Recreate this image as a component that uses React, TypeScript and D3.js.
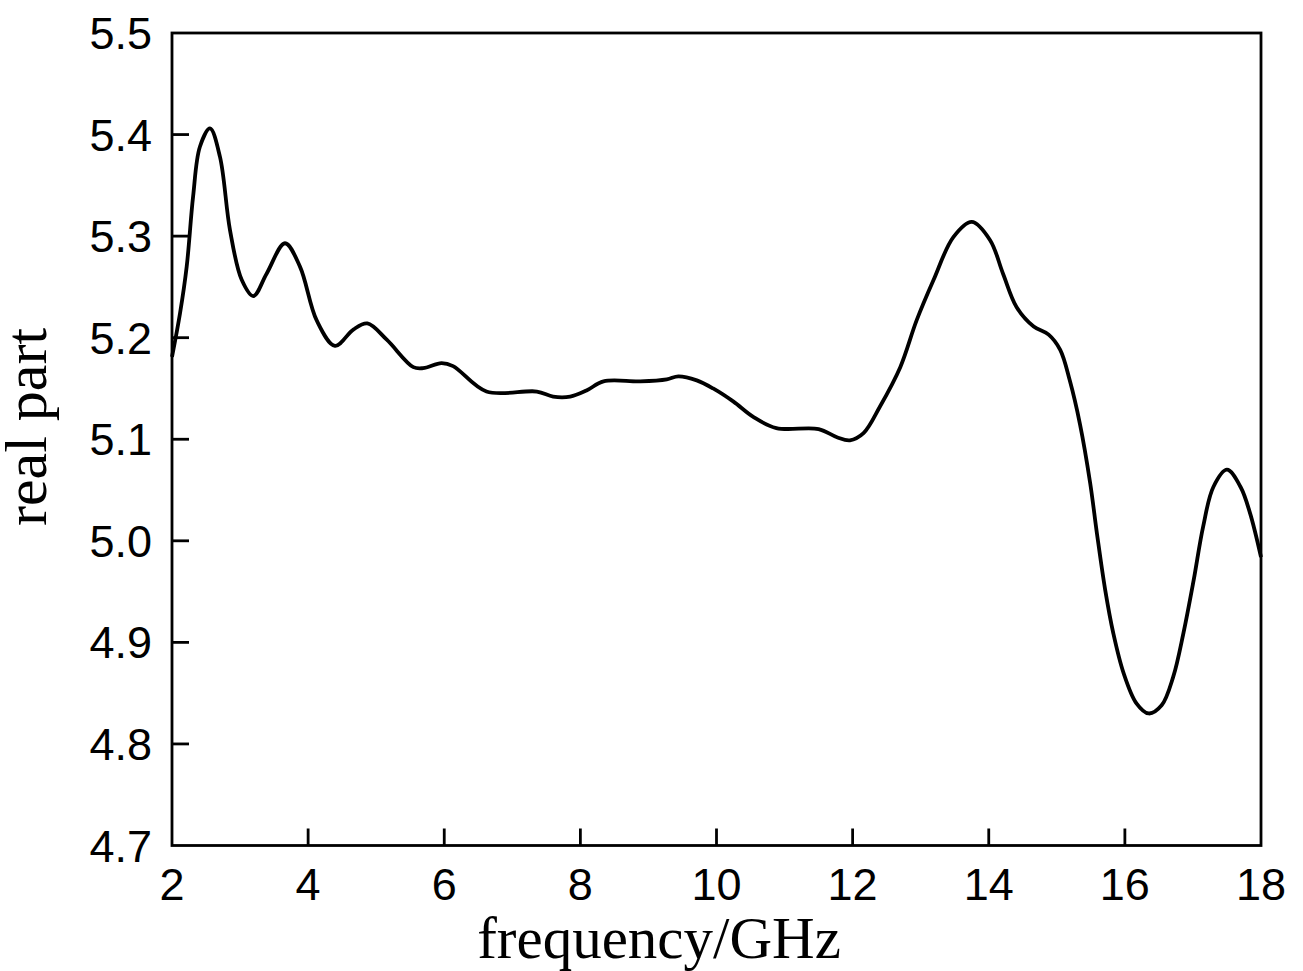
import React from "react";
import * as d3 from "d3";

const freq = [2.0, 2.118, 2.216, 2.31, 2.41, 2.558, 2.705, 2.852, 3.024, 3.195, 3.39, 3.66, 3.88, 4.126, 4.395, 4.664, 4.87, 5.155, 5.546, 5.69, 5.96, 6.13, 6.62, 7.36, 7.6, 7.85, 8.09, 8.34, 8.88, 9.27, 9.44, 9.71, 9.95, 10.25, 10.54, 10.88, 11.5, 11.77, 11.96, 12.16, 12.4, 12.7, 12.94, 13.19, 13.48, 13.75, 14.02, 14.21, 14.41, 14.66, 14.88, 15.05, 15.19, 15.34, 15.49, 15.59, 15.71, 15.83, 15.98, 16.17, 16.35, 16.54, 16.71, 16.86, 17.01, 17.15, 17.3, 17.5, 17.7, 17.84, 18.0];
const realPart = [5.181, 5.224, 5.27, 5.339, 5.388, 5.406, 5.378, 5.306, 5.257, 5.241, 5.263, 5.293, 5.27, 5.217, 5.192, 5.208, 5.214, 5.198, 5.171, 5.17, 5.175, 5.172, 5.147, 5.147, 5.142, 5.142, 5.148, 5.157, 5.157, 5.159, 5.162, 5.158, 5.15, 5.137, 5.122, 5.111, 5.11, 5.102, 5.099, 5.106, 5.132, 5.171, 5.217, 5.257, 5.299, 5.314, 5.296, 5.263, 5.23, 5.211, 5.203, 5.188, 5.158, 5.115, 5.057, 5.007, 4.952, 4.909, 4.87, 4.84, 4.83, 4.838, 4.866, 4.909, 4.961, 5.014, 5.053, 5.07, 5.053, 5.027, 4.984];
const xTicks = [2, 4, 6, 8, 10, 12, 14, 16, 18];
const yTicks = [4.7, 4.8, 4.9, 5.0, 5.1, 5.2, 5.3, 5.4, 5.5];
const xTitle = "frequency/GHz";
const yTitle = "real part";

export default function App() {
  const W = 1303, H = 971;
  const L = 172, R = 1261, T = 33, B = 845.5;
  const x = d3.scaleLinear().domain([2, 18]).range([L, R]);
  const y = d3.scaleLinear().domain([4.7, 5.5]).range([B, T]);
  const pts = freq.map((f, i) => [f, realPart[i]] as [number, number]);
  const line = d3.line<[number, number]>()
    .x(d => x(d[0]))
    .y(d => y(d[1]))
    .curve(d3.curveCatmullRom.alpha(0.5));
  const tickLen = 17;
  return (
    <svg width={W} height={H} style={{ position: "absolute", left: 0, top: 0, background: "#fff" }}>
      <rect x={0} y={0} width={W} height={H} fill="#fff" />
      <path d={line(pts) || ""} fill="none" stroke="#000" strokeWidth={3.8} strokeLinejoin="round" />
      <rect x={L} y={T} width={R - L} height={B - T} fill="none" stroke="#000" strokeWidth={2.8} />
      {xTicks.map(t => (
        <g key={"x" + t}>
          {t !== 2 && t !== 18 && (
            <line x1={x(t)} x2={x(t)} y1={B} y2={B - tickLen} stroke="#000" strokeWidth={2.8} />
          )}
          <text x={x(t)} y={900} textAnchor="middle" fontFamily="'Liberation Sans', Arial, sans-serif" fontSize={45} fill="#000">{t}</text>
        </g>
      ))}
      {yTicks.map(t => (
        <g key={"y" + t}>
          {t !== 4.7 && t !== 5.5 && (
            <line x1={L} x2={L + tickLen} y1={y(t)} y2={y(t)} stroke="#000" strokeWidth={2.8} />
          )}
          <text x={152} y={y(t) + 16} textAnchor="end" fontFamily="'Liberation Sans', Arial, sans-serif" fontSize={45} fill="#000">{t.toFixed(1)}</text>
        </g>
      ))}
      <text x={659} y={958} textAnchor="middle" fontFamily="'Liberation Serif', 'Times New Roman', serif" fontSize={59} fill="#000">{xTitle}</text>
      <text transform={`translate(46, 427) rotate(-90)`} textAnchor="middle" fontFamily="'Liberation Serif', 'Times New Roman', serif" fontSize={60} fill="#000">{yTitle}</text>
    </svg>
  );
}
